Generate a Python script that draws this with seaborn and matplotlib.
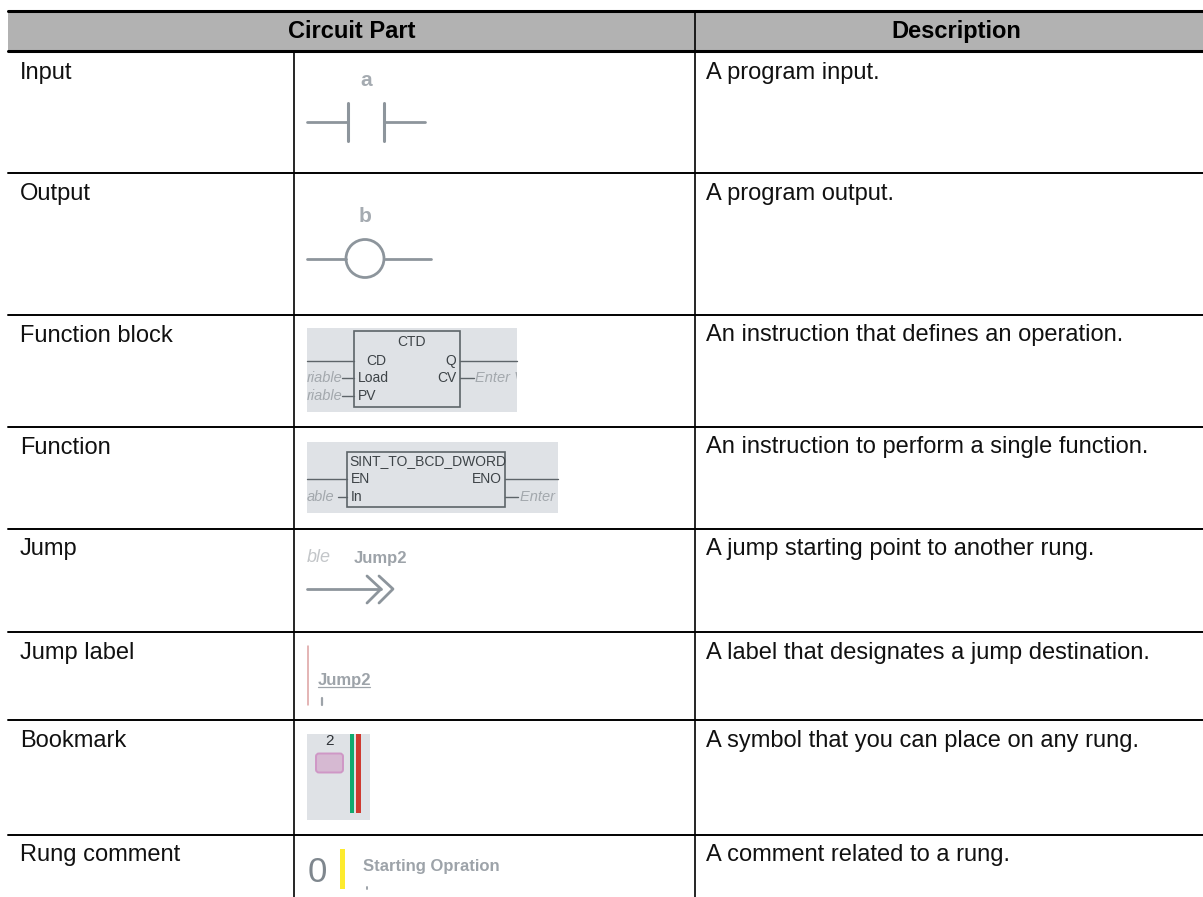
import matplotlib
matplotlib.use("Agg")
import matplotlib.pyplot as plt
from matplotlib.patches import Circle, FancyBboxPatch, Rectangle
import seaborn as sns

# table layout, in pixels
row_names = ["Input", "Output", "Function block", "Function", "Jump", "Jump label", "Bookmark", "Rung comment"]
descriptions = ["A program input.", "A program output.", "An instruction that defines an operation.",
                "An instruction to perform a single function.", "A jump starting point to another rung.",
                "A label that designates a jump destination.", "A symbol that you can place on any rung.",
                "A comment related to a rung."]
row_tops = [52, 173.5, 315, 427, 529, 632.5, 720.5, 835]
col_lines = [294, 695]
LEFT = 8
GREY = "#8d959c"
PANEL = "#dfe2e6"

sns.set_theme(style="white")
plt.rcParams['font.family'] = ['Liberation Sans', 'DejaVu Sans']


def rule(ax, xs, ys, width=1.4, color="black"):
    sns.lineplot(x=xs, y=ys, color=color, linewidth=width, sort=False, estimator=None, ax=ax, legend=False)


def main():
    fig = plt.figure(figsize=(12.03, 8.97), dpi=100)
    ax = fig.add_axes([0, 0, 1, 1])
    ax.set_xlim(0, 1203)
    ax.set_ylim(897, 0)
    ax.axis("off")

    # header
    ax.add_patch(Rectangle((LEFT, 12), 1203 - LEFT, 39, color="#b2b2b2", lw=0))
    ax.text(352, 38, "Circuit Part", fontsize=17, fontweight="bold", ha="center", va="baseline", color="black")
    ax.text(956, 38, "Description", fontsize=17, fontweight="bold", ha="center", va="baseline", color="black")
    for y in [11.5, 51.5]:
        rule(ax, [LEFT, 1203], [y, y], 2.2)
    for y in row_tops[1:]:
        rule(ax, [LEFT, 1203], [y, y], 1.4)
    rule(ax, [col_lines[0]] * 2, [52, 897], 1.2)
    rule(ax, [col_lines[1]] * 2, [12, 897], 1.2)

    for top, name, desc in zip(row_tops, row_names, descriptions):
        ax.text(20, top + 26.5, name, fontsize=17, ha="left", va="baseline", color="#111111")
        ax.text(706, top + 26.5, desc, fontsize=17, ha="left", va="baseline", color="#111111")

    # input contact
    ax.text(366, 80, "a", fontsize=15, fontweight="bold", color="#a5abb1", ha="center", va="center")
    rule(ax, [307, 348], [122, 122], 2, GREY)
    rule(ax, [348, 348], [103, 141], 2.2, GREY)
    rule(ax, [384, 384], [103, 141], 2.2, GREY)
    rule(ax, [384, 425], [122, 122], 2, GREY)

    # output coil
    ax.text(365, 216, "b", fontsize=15, fontweight="bold", color="#a5abb1", ha="center", va="center")
    rule(ax, [307, 346], [259, 259], 2, GREY)
    rule(ax, [385, 431], [259, 259], 2, GREY)
    ax.add_patch(Circle((365, 258.5), 19, fill=False, ec=GREY, lw=2))

    # function block
    panel = Rectangle((307, 328), 210, 84, color=PANEL, lw=0)
    ax.add_patch(panel)
    ax.add_patch(Rectangle((354, 331), 106, 76, fc=PANEL, ec="#5d6469", lw=1.2))
    rule(ax, [307, 354], [361, 361], 1, "#5d6469")
    rule(ax, [460, 517], [361, 361], 1, "#5d6469")
    rule(ax, [342, 354], [378, 378], 1, "#5d6469")
    rule(ax, [342, 354], [396, 396], 1, "#5d6469")
    rule(ax, [460, 474], [378, 378], 1, "#5d6469")
    ax.text(411, 342, "CTD", fontsize=10, color="#3d4347", ha="center", va="center")
    ax.text(366, 361, "CD", fontsize=10, color="#3d4347", va="center")
    ax.text(358, 378, "Load", fontsize=10, color="#3d4347", va="center")
    ax.text(358, 396, "PV", fontsize=10, color="#3d4347", va="center")
    ax.text(456, 361, "Q", fontsize=10, color="#3d4347", ha="right", va="center")
    ax.text(456, 378, "CV", fontsize=10, color="#3d4347", ha="right", va="center")
    ax.text(307, 378, "riable", fontsize=10.5, style="italic", color="#a3a8ad", va="center")
    ax.text(307, 396, "riable", fontsize=10.5, style="italic", color="#a3a8ad", va="center")
    t = ax.text(475, 378, "Enter Var", fontsize=10.5, style="italic", color="#a3a8ad", va="center", clip_on=True)
    t.set_clip_path(panel)

    # function
    panel = Rectangle((307, 442), 251, 71, color=PANEL, lw=0)
    ax.add_patch(panel)
    ax.add_patch(Rectangle((347, 452), 158, 55, fc=PANEL, ec="#5d6469", lw=1.2))
    rule(ax, [307, 347], [479, 479], 1, "#5d6469")
    rule(ax, [505, 558], [479, 479], 1, "#5d6469")
    rule(ax, [338, 347], [497, 497], 1, "#5d6469")
    rule(ax, [505, 518], [497, 497], 1, "#5d6469")
    ax.text(349, 461, "SINT_TO_BCD_DWORD", fontsize=10, color="#3d4347", va="center")
    ax.text(351, 479, "EN", fontsize=10, color="#3d4347", va="center")
    ax.text(351, 497, "In", fontsize=10, color="#3d4347", va="center")
    ax.text(502, 479, "ENO", fontsize=10, color="#3d4347", ha="right", va="center")
    ax.text(307, 497, "able", fontsize=10.5, style="italic", color="#a3a8ad", va="center")
    t = ax.text(520, 497, "Enter Var", fontsize=10.5, style="italic", color="#a3a8ad", va="center", clip_on=True)
    t.set_clip_path(panel)

    # jump
    ax.text(307, 558, "ble", fontsize=13, style="italic", color="#c3c6c9", va="center")
    ax.text(354, 558, "Jump2", fontsize=12, fontweight="bold", color="#9da3a9", va="center")
    rule(ax, [307, 381], [589, 589], 2, GREY)
    rule(ax, [367, 381, 367], [576, 589, 603], 2, GREY)
    rule(ax, [379, 393, 379], [576, 589, 603], 2, GREY)

    # jump label
    rule(ax, [307.5, 307.5], [646, 705], 1.1, "#dca0a0")
    ax.text(318, 680, "Jump2", fontsize=12, fontweight="bold", color="#9da3a9", va="center")
    rule(ax, [318, 370], [687, 687], 0.9, "#9da3a9")
    rule(ax, [321.5, 321.5], [698, 705], 1.6, "#9da3a9")

    # bookmark
    ax.add_patch(Rectangle((307, 734), 63, 86, color=PANEL, lw=0))
    ax.text(330, 741, "2", fontsize=11, color="#2f3337", ha="center", va="center")
    ax.add_patch(FancyBboxPatch((317, 754.5), 25, 17, boxstyle="round,pad=1,rounding_size=3",
                                fc="#d6b9d2", ec="#cf97c6", lw=1.4))
    ax.add_patch(Rectangle((350, 734), 4, 79, color="#10ab6f", lw=0))
    ax.add_patch(Rectangle((356, 734), 4.5, 79, color="#cf3a30", lw=0))

    # rung comment
    ax.text(317, 872, "0", fontsize=25, color="#7f878e", ha="center", va="center")
    ax.add_patch(Rectangle((340, 849), 4.5, 40, color="#fdeb2e", lw=0))
    ax.text(363, 867, "Starting Opration", fontsize=12, fontweight="bold", color="#9da3a9", va="center")
    rule(ax, [367, 367], [887, 889], 1.4, "#9da3a9")

    plt.savefig("out.png", dpi=100)
    plt.close()


if __name__ == '__main__':
    main()
